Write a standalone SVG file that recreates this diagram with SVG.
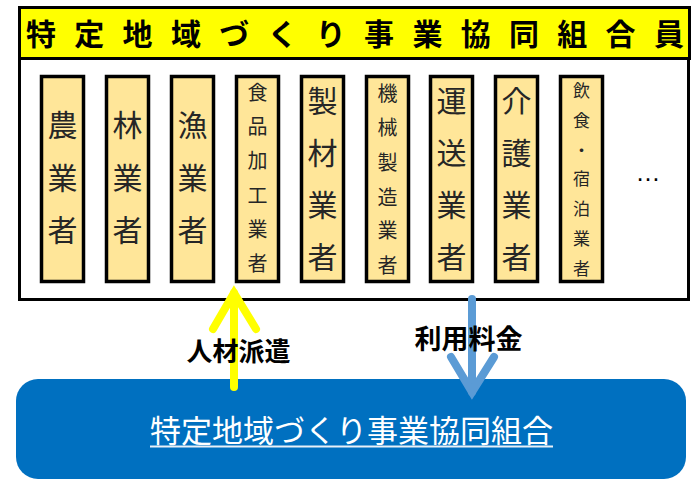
<svg xmlns="http://www.w3.org/2000/svg" width="695" height="479" viewBox="0 0 695 479">
<style>
.col{fill:#FFE699;stroke:#000;stroke-width:3.5}
.big{font-family:"Noto Sans CJK JP","Noto Sans CJK SC",sans-serif;font-size:30px;fill:#262626;text-anchor:middle}
.mid{font-family:"Noto Sans CJK JP","Noto Sans CJK SC",sans-serif;font-size:20px;fill:#262626;text-anchor:middle}
.sm{font-family:"Noto Sans CJK JP","Noto Sans CJK SC",sans-serif;font-size:17px;fill:#262626;text-anchor:middle}
.lbl{font-family:"Noto Sans CJK JP","Noto Sans CJK SC",sans-serif;font-weight:700;fill:#000;text-anchor:middle}
.arr{fill:none;stroke-width:8;stroke-linecap:round;stroke-linejoin:miter}
</style>
<rect width="695" height="479" fill="#fff"/>
<g id="members">
  <rect x="19.5" y="58" width="669" height="241.5" fill="#fff" stroke="#000" stroke-width="3"/>
  <rect x="19.5" y="7.5" width="670" height="51" fill="#FFFF00" stroke="#000" stroke-width="3"/>
  <text class="lbl" font-size="30" x="41 89.3 137.6 185.9 234.2 282.5 330.8 379.1 427.4 475.7 524 572.3 620.6 668.9" y="45">特定地域づくり事業協同組合員</text>
</g>
<g id="col1"><rect class="col" x="41.5" y="76.5" width="42" height="205"/>
  <text class="big" x="62.5" y="136">農</text><text class="big" x="62.5" y="189">業</text><text class="big" x="62.5" y="241">者</text></g>
<g id="col2"><rect class="col" x="106.5" y="76.5" width="42" height="205"/>
  <text class="big" x="127.5" y="136">林</text><text class="big" x="127.5" y="189">業</text><text class="big" x="127.5" y="241">者</text></g>
<g id="col3"><rect class="col" x="171.5" y="76.5" width="42" height="205"/>
  <text class="big" x="192.5" y="136">漁</text><text class="big" x="192.5" y="189">業</text><text class="big" x="192.5" y="241">者</text></g>
<g id="col4"><rect class="col" x="236.5" y="76.5" width="42" height="205"/>
  <text class="mid" x="257.5" y="99.6">食</text><text class="mid" x="257.5" y="133.6">品</text><text class="mid" x="257.5" y="167.6">加</text><text class="mid" x="257.5" y="202.6">工</text><text class="mid" x="257.5" y="236.6">業</text><text class="mid" x="257.5" y="270.6">者</text></g>
<g id="col5"><rect class="col" x="301.5" y="76.5" width="42" height="205"/>
  <text class="big" x="322.5" y="112">製</text><text class="big" x="322.5" y="164">材</text><text class="big" x="322.5" y="216">業</text><text class="big" x="322.5" y="268">者</text></g>
<g id="col6"><rect class="col" x="366.5" y="76.5" width="42" height="205"/>
  <text class="mid" x="387.5" y="100.6">機</text><text class="mid" x="387.5" y="134.6">械</text><text class="mid" x="387.5" y="169.6">製</text><text class="mid" x="387.5" y="204.6">造</text><text class="mid" x="387.5" y="237.6">業</text><text class="mid" x="387.5" y="272.6">者</text></g>
<g id="col7"><rect class="col" x="430.5" y="76.5" width="42" height="205"/>
  <text class="big" x="451.5" y="112">運</text><text class="big" x="451.5" y="164">送</text><text class="big" x="451.5" y="216">業</text><text class="big" x="451.5" y="268">者</text></g>
<g id="col8"><rect class="col" x="495.5" y="76.5" width="42" height="205"/>
  <text class="big" x="516.5" y="112">介</text><text class="big" x="516.5" y="164">護</text><text class="big" x="516.5" y="216">業</text><text class="big" x="516.5" y="268">者</text></g>
<g id="col9"><rect class="col" x="560.5" y="76.5" width="42" height="205"/>
  <text class="sm" x="581.5" y="96.5">飲</text><text class="sm" x="581.5" y="126.5">食</text><text class="sm" x="581.5" y="156.5">・</text><text class="sm" x="581.5" y="184.5">宿</text><text class="sm" x="581.5" y="214.5">泊</text><text class="sm" x="581.5" y="244.5">業</text><text class="sm" x="581.5" y="274.5">者</text></g>
<g id="more"><text x="648" y="181" font-family="Liberation Sans,sans-serif" font-size="25" text-anchor="middle" fill="#000">…</text></g>
<g id="union">
  <rect x="16" y="379" width="670" height="100" rx="22" fill="#0070C0"/>
  <text x="351.5" y="442.3" font-family="Noto Sans CJK JP,Noto Sans CJK SC,sans-serif" font-size="31" fill="#fff" text-anchor="middle">特定地域づくり事業協同組合</text>
  <line x1="150" y1="446.5" x2="553" y2="446.5" stroke="#e8f0f8" stroke-width="2"/>
</g>
<g id="connectors">
  <line class="arr" x1="234" y1="387" x2="234" y2="293" stroke="#FFFF00"/>
  <polyline class="arr" points="213,329 234,293 256,329" stroke="#FFFF00"/>
  <text class="lbl" font-size="26" x="238.5" y="360.5">人材派遣</text>
  <line class="arr" x1="472" y1="299" x2="472" y2="392" stroke="#5B9BD5"/>
  <polyline class="arr" points="451,357 472,392 494,357" stroke="#5B9BD5"/>
  <text class="lbl" font-size="27" x="468.5" y="349">利用料金</text>
</g>
</svg>
